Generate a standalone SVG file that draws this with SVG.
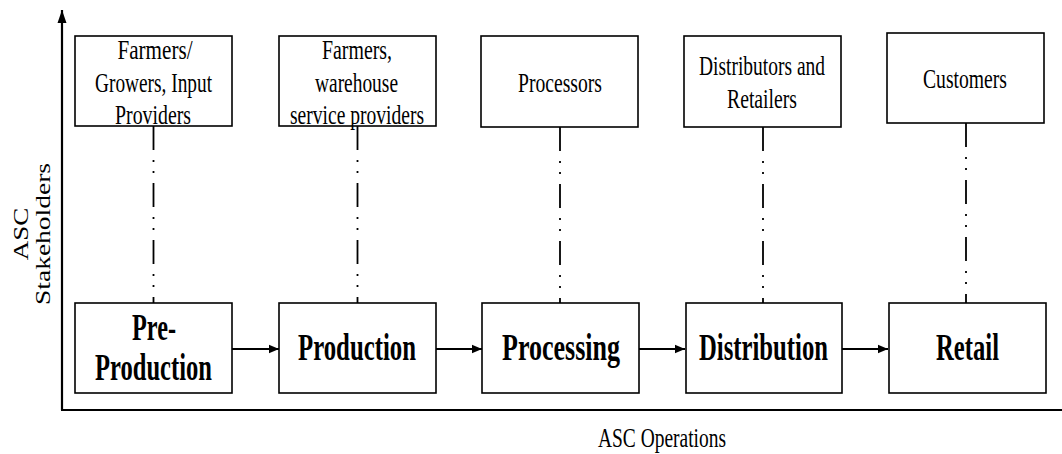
<svg xmlns="http://www.w3.org/2000/svg" width="1062" height="454" viewBox="0 0 1062 454">
<style>
.box{fill:#fff;stroke:#000;stroke-width:1.6}
.t{font-family:"Liberation Serif","Times New Roman",serif;font-size:27px;fill:#000;text-anchor:middle}
.b{font-family:"Liberation Serif","Times New Roman",serif;font-size:37px;font-weight:bold;fill:#000;text-anchor:middle}
.dd{stroke:#000;stroke-width:1.8;fill:none;stroke-dasharray:24 10 2 9 2 10}
.arr{stroke:#000;stroke-width:2.2;fill:none;marker-end:url(#ah)}
.axis{stroke:#000;stroke-width:2.2;fill:none}
</style>
<defs>
<marker id="ah" markerUnits="userSpaceOnUse" markerWidth="10" markerHeight="10" viewBox="0 0 10 10" refX="10" refY="5" orient="auto">
<path d="M0,0.8 L10,5 L0,9.2 Z" fill="#000"/>
</marker>
<marker id="axh" markerUnits="userSpaceOnUse" markerWidth="13" markerHeight="10" viewBox="0 0 13 10" refX="13" refY="5" orient="auto">
<path d="M0,0.5 L13,5 L0,9.5 Z" fill="#000"/>
</marker>
</defs>
<rect width="1062" height="454" fill="#fff"/>

<g id="axes">
<line class="axis" x1="62" y1="410" x2="62" y2="10" marker-end="url(#axh)"/>
<line class="axis" x1="61" y1="410" x2="1062" y2="410"/>
<text class="t" x="662" y="447" font-size="26" textLength="128" lengthAdjust="spacingAndGlyphs">ASC Operations</text>
<g transform="translate(28,234) scale(0.8,1) rotate(-90)"><text class="t" x="0" y="0" font-size="28">ASC</text></g>
<g transform="translate(50,234) scale(0.8,1) rotate(-90)"><text class="t" x="0" y="0" font-size="28" textLength="142" lengthAdjust="spacingAndGlyphs">Stakeholders</text></g>
</g>

<g id="connectors">
<line class="dd" x1="153.5" y1="126" x2="153.5" y2="303"/>
<line class="dd" x1="357.5" y1="126" x2="357.5" y2="303"/>
<line class="dd" x1="560" y1="127" x2="560" y2="303"/>
<line class="dd" x1="763" y1="127" x2="763" y2="303"/>
<line class="dd" x1="966" y1="123" x2="966" y2="303"/>
<line class="arr" x1="232" y1="349" x2="279" y2="349"/>
<line class="arr" x1="436" y1="349" x2="482" y2="349"/>
<line class="arr" x1="639" y1="349" x2="685" y2="349"/>
<line class="arr" x1="842" y1="349" x2="888" y2="349"/>
</g>

<g id="s1">
<rect class="box" x="75" y="36" width="157" height="90"/>
<text class="t" x="155" y="59" textLength="75" lengthAdjust="spacingAndGlyphs">Farmers/</text>
<text class="t" x="153.5" y="92" textLength="117" lengthAdjust="spacingAndGlyphs">Growers, Input</text>
<text class="t" x="153" y="124" textLength="76" lengthAdjust="spacingAndGlyphs">Providers</text>
</g>
<g id="s2">
<rect class="box" x="279" y="36" width="157" height="90"/>
<text class="t" x="357" y="59" textLength="70" lengthAdjust="spacingAndGlyphs">Farmers,</text>
<text class="t" x="356.5" y="92" textLength="83" lengthAdjust="spacingAndGlyphs">warehouse</text>
<text class="t" x="357" y="124" textLength="134" lengthAdjust="spacingAndGlyphs">service providers</text>
</g>
<g id="s3">
<rect class="box" x="481" y="36" width="157" height="91"/>
<text class="t" x="560" y="92" textLength="84" lengthAdjust="spacingAndGlyphs">Processors</text>
</g>
<g id="s4">
<rect class="box" x="684" y="36" width="157" height="91"/>
<text class="t" x="762" y="75" textLength="126" lengthAdjust="spacingAndGlyphs">Distributors and</text>
<text class="t" x="762" y="108" textLength="70" lengthAdjust="spacingAndGlyphs">Retailers</text>
</g>
<g id="s5">
<rect class="box" x="887" y="33" width="157" height="90"/>
<text class="t" x="965" y="88" textLength="84" lengthAdjust="spacingAndGlyphs">Customers</text>
</g>

<g id="preproduction">
<rect class="box" x="75" y="303" width="157" height="90"/>
<text class="b" x="154" y="340" textLength="44" lengthAdjust="spacingAndGlyphs">Pre-</text>
<text class="b" x="153.5" y="380" textLength="117" lengthAdjust="spacingAndGlyphs">Production</text>
</g>
<g id="production">
<rect class="box" x="279" y="303" width="157" height="90"/>
<text class="b" x="357" y="360" textLength="118" lengthAdjust="spacingAndGlyphs">Production</text>
</g>
<g id="processing">
<rect class="box" x="482" y="303" width="157" height="90"/>
<text class="b" x="561" y="360" textLength="118" lengthAdjust="spacingAndGlyphs">Processing</text>
</g>
<g id="distribution">
<rect class="box" x="686" y="303" width="156" height="90"/>
<text class="b" x="763.5" y="360" textLength="129" lengthAdjust="spacingAndGlyphs">Distribution</text>
</g>
<g id="retail">
<rect class="box" x="889" y="303" width="157" height="90"/>
<text class="b" x="967.5" y="360" textLength="63" lengthAdjust="spacingAndGlyphs">Retail</text>
</g>
</svg>
